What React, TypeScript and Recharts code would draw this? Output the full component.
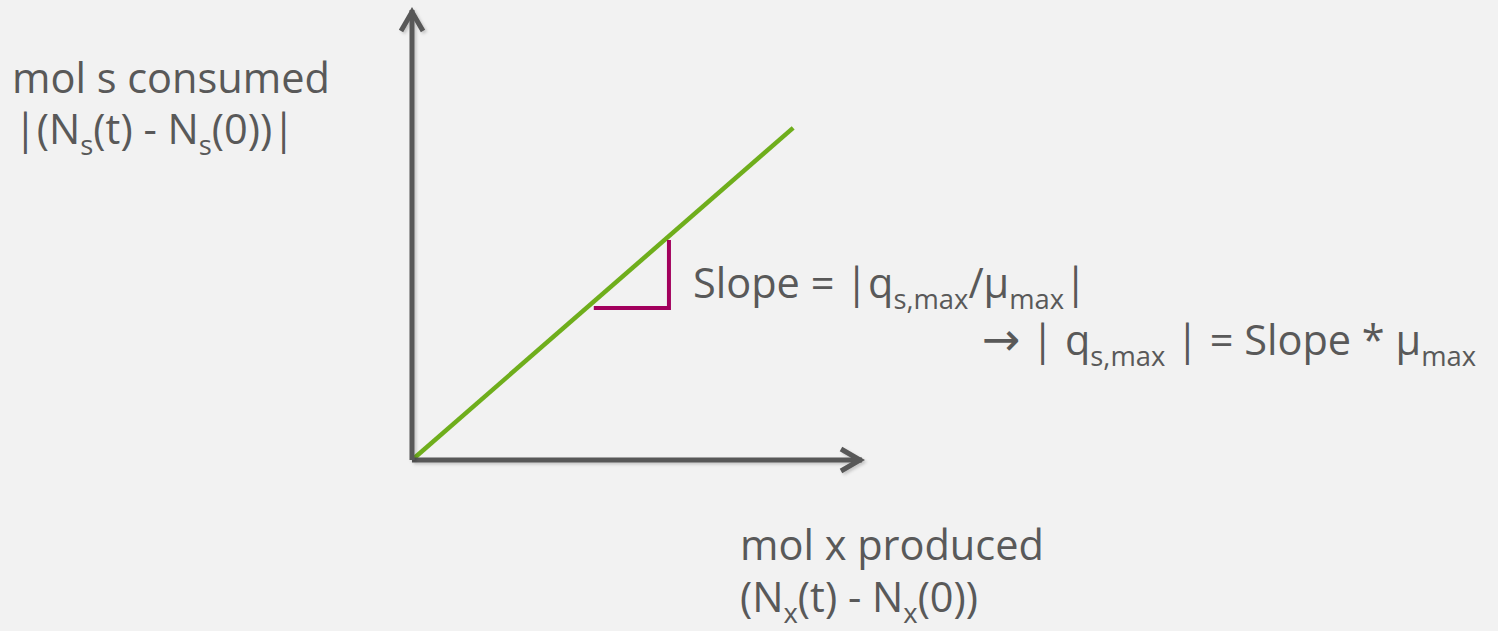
import React from "react";
import { LineChart, Line, XAxis, YAxis } from "recharts";

// assen lopen van 0 tot 10 (geen ticks, alleen pijlen)
const xDomain = [0, 10];
const yDomain = [0, 10];

// groene lijn: mol s verbruikt vs mol x geproduceerd
const slopeLine = [
  { x: 0, y: 0 },
  { x: 8.47, y: 7.38 },
];

// paarse hellingsdriehoek
const slopeTriangle = [
  { x: 4.04, y: 3.38 },
  { x: 5.71, y: 3.38 },
  { x: 5.71, y: 4.89 },
];

const W = 1498;
const H = 631;
const bg = "#f2f2f2";
const ink = "#595959";
const green = "#6fae1c";
const purple = "#a2005d";
const font = "'Open Sans', sans-serif";
const fs = 41.5;
const subDy = 11;

const Sub: React.FC<{ t: string }> = ({ t }) => (
  <>
    <tspan dy={subDy} fontSize={fs * 0.66}>
      {t}
    </tspan>
    <tspan dy={-subDy}>{"\u200b"}</tspan>
  </>
);

const App: React.FC = () => {
  return (
    <div style={{ position: "fixed", left: 0, top: 0, width: W, height: H, background: bg }}>
      <LineChart
        width={W}
        height={H}
        margin={{ top: 10, right: W - 862, bottom: H - 461, left: 411 }}
      >
        <defs>
          <marker
            id="chev"
            markerUnits="userSpaceOnUse"
            viewBox="-30 -15 40 30"
            markerWidth={40}
            markerHeight={30}
            refX={0}
            refY={0}
            orient="auto-start-reverse"
          >
            <path d="M-21,-11 L-2,0 L-21,11" fill="none" stroke={ink} strokeWidth={5} />
          </marker>
          {/* zachte schaduw, in userSpace want een rechte lijn heeft geen bbox-hoogte */}
          <filter id="shade" filterUnits="userSpaceOnUse" x={0} y={0} width={W} height={H}>
            <feDropShadow dx={2} dy={2} stdDeviation={1.5} floodColor="#000" floodOpacity={0.18} />
          </filter>
        </defs>
        <XAxis
          type="number"
          dataKey="x"
          domain={xDomain}
          height={1}
          tick={false}
          tickLine={false}
          axisLine={{ stroke: ink, strokeWidth: 5, markerEnd: "url(#chev)", filter: "url(#shade)" }}
        />
        <YAxis
          type="number"
          dataKey="y"
          domain={yDomain}
          width={1}
          tick={false}
          tickLine={false}
          axisLine={{ stroke: ink, strokeWidth: 5, markerStart: "url(#chev)", filter: "url(#shade)" }}
        />
        <Line
          data={slopeLine}
          dataKey="y"
          stroke={green}
          strokeWidth={4.5}
          dot={false}
          isAnimationActive={false}
        />
        <Line
          data={slopeTriangle}
          dataKey="y"
          stroke={purple}
          strokeWidth={4}
          strokeLinejoin="miter"
          dot={false}
          type="linear"
          isAnimationActive={false}
        />
      </LineChart>
      <svg
        width={W}
        height={H}
        style={{ position: "absolute", left: 0, top: 0, pointerEvents: "none", whiteSpace: "pre" }}
        fontFamily={font}
        fontSize={fs}
        fill={ink}
      >
        <text x={12} y={93}>mol s consumed</text>
        <text x={14} y={144}>
          |(N<Sub t="s" />(t) - N<Sub t="s" />(0))|
        </text>
        <text x={693} y={298}>
          Slope = |q<Sub t="s,max" />/μ<Sub t="max" />|
        </text>
        <text x={982} y={355}>
          <tspan fontFamily="'DejaVu Sans'" fontSize={46}>→</tspan>
          {" | q"}
          <Sub t="s,max" />
          {" | = Slope *  μ"}
          <Sub t="max" />
        </text>
        <text x={740} y={560}>mol x produced</text>
        <text x={740} y={612}>
          (N<Sub t="x" />(t) - N<Sub t="x" />(0))
        </text>
      </svg>
    </div>
  );
};

export default App;
